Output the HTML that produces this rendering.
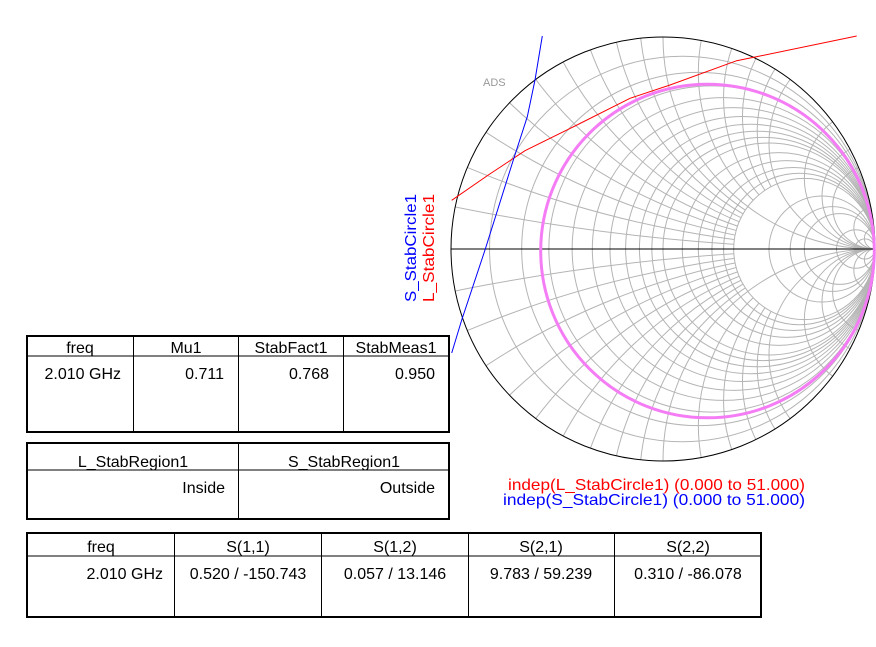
<!DOCTYPE html>
<html><head><meta charset="utf-8"><style>
html,body{margin:0;padding:0;background:#fff;width:876px;height:647px;overflow:hidden;}
svg{display:block;font-family:"Liberation Sans",Arial,sans-serif;}
</style></head><body>
<svg width="876" height="647" viewBox="0 0 876 647" xmlns="http://www.w3.org/2000/svg">
<defs>
<clipPath id="uc"><circle cx="0" cy="0" r="1"/></clipPath>
<clipPath id="lo"><path clip-rule="evenodd" d="M-1,0 A1,1 0 1,0 1,0 A1,1 0 1,0 -1,0 Z M0.3333,0 A0.3333,0.3333 0 1,0 1,0 A0.3333,0.3333 0 1,0 0.3333,0 Z"/></clipPath>
</defs>
<g transform="translate(663,249) scale(212)">
 <g clip-path="url(#uc)" fill="none" stroke="#b4b4b4" stroke-width="1">
  <circle vector-effect="non-scaling-stroke" cx=".0909" cy="0" r=".9091"/>
  <circle vector-effect="non-scaling-stroke" cx=".1667" cy="0" r=".8333"/>
  <circle vector-effect="non-scaling-stroke" cx=".2308" cy="0" r=".7692"/>
  <circle vector-effect="non-scaling-stroke" cx=".2857" cy="0" r=".7143"/>
  <circle vector-effect="non-scaling-stroke" cx=".3333" cy="0" r=".6667"/>
  <circle vector-effect="non-scaling-stroke" cx=".375" cy="0" r=".625"/>
  <circle vector-effect="non-scaling-stroke" cx=".4118" cy="0" r=".5882"/>
  <circle vector-effect="non-scaling-stroke" cx=".4444" cy="0" r=".5556"/>
  <circle vector-effect="non-scaling-stroke" cx=".4737" cy="0" r=".5263"/>
  <circle vector-effect="non-scaling-stroke" cx=".5" cy="0" r=".5"/>
  <circle vector-effect="non-scaling-stroke" cx=".5455" cy="0" r=".4545"/>
  <circle vector-effect="non-scaling-stroke" cx=".5833" cy="0" r=".4167"/>
  <circle vector-effect="non-scaling-stroke" cx=".6154" cy="0" r=".3846"/>
  <circle vector-effect="non-scaling-stroke" cx=".6429" cy="0" r=".3571"/>
  <circle vector-effect="non-scaling-stroke" cx=".6667" cy="0" r=".3333"/>
  <circle vector-effect="non-scaling-stroke" cx=".75" cy="0" r=".25"/>
  <circle vector-effect="non-scaling-stroke" cx=".8" cy="0" r=".2"/>
  <circle vector-effect="non-scaling-stroke" cx=".8333" cy="0" r=".1667"/>
  <circle vector-effect="non-scaling-stroke" cx=".9091" cy="0" r=".0909"/>
  <circle vector-effect="non-scaling-stroke" cx=".9524" cy="0" r=".0476"/>
  <circle vector-effect="non-scaling-stroke" cx="1" cy="1" r="1"/><circle vector-effect="non-scaling-stroke" cx="1" cy="-1" r="1"/>
  <circle vector-effect="non-scaling-stroke" cx="1" cy=".5" r=".5"/><circle vector-effect="non-scaling-stroke" cx="1" cy="-.5" r=".5"/>
  <circle vector-effect="non-scaling-stroke" cx="1" cy=".3333" r=".3333"/><circle vector-effect="non-scaling-stroke" cx="1" cy="-.3333" r=".3333"/>
  <circle vector-effect="non-scaling-stroke" cx="1" cy=".25" r=".25"/><circle vector-effect="non-scaling-stroke" cx="1" cy="-.25" r=".25"/>
  <circle vector-effect="non-scaling-stroke" cx="1" cy=".2" r=".2"/><circle vector-effect="non-scaling-stroke" cx="1" cy="-.2" r=".2"/>
  <circle vector-effect="non-scaling-stroke" cx="1" cy=".1" r=".1"/><circle vector-effect="non-scaling-stroke" cx="1" cy="-.1" r=".1"/>
  <circle vector-effect="non-scaling-stroke" cx="1" cy=".05" r=".05"/><circle vector-effect="non-scaling-stroke" cx="1" cy="-.05" r=".05"/>
 </g>
 <g clip-path="url(#lo)" fill="none" stroke="#b4b4b4" stroke-width="1">
  <circle vector-effect="non-scaling-stroke" cx="1" cy="10" r="10"/><circle vector-effect="non-scaling-stroke" cx="1" cy="-10" r="10"/>
  <circle vector-effect="non-scaling-stroke" cx="1" cy="5" r="5"/><circle vector-effect="non-scaling-stroke" cx="1" cy="-5" r="5"/>
  <circle vector-effect="non-scaling-stroke" cx="1" cy="3.3333" r="3.3333"/><circle vector-effect="non-scaling-stroke" cx="1" cy="-3.3333" r="3.3333"/>
  <circle vector-effect="non-scaling-stroke" cx="1" cy="2.5" r="2.5"/><circle vector-effect="non-scaling-stroke" cx="1" cy="-2.5" r="2.5"/>
  <circle vector-effect="non-scaling-stroke" cx="1" cy="2" r="2"/><circle vector-effect="non-scaling-stroke" cx="1" cy="-2" r="2"/>
  <circle vector-effect="non-scaling-stroke" cx="1" cy="1.6667" r="1.6667"/><circle vector-effect="non-scaling-stroke" cx="1" cy="-1.6667" r="1.6667"/>
  <circle vector-effect="non-scaling-stroke" cx="1" cy="1.4286" r="1.4286"/><circle vector-effect="non-scaling-stroke" cx="1" cy="-1.4286" r="1.4286"/>
  <circle vector-effect="non-scaling-stroke" cx="1" cy="1.25" r="1.25"/><circle vector-effect="non-scaling-stroke" cx="1" cy="-1.25" r="1.25"/>
  <circle vector-effect="non-scaling-stroke" cx="1" cy="1.1111" r="1.1111"/><circle vector-effect="non-scaling-stroke" cx="1" cy="-1.1111" r="1.1111"/>
  <circle vector-effect="non-scaling-stroke" cx="1" cy=".8333" r=".8333"/><circle vector-effect="non-scaling-stroke" cx="1" cy="-.8333" r=".8333"/>
  <circle vector-effect="non-scaling-stroke" cx="1" cy=".7143" r=".7143"/><circle vector-effect="non-scaling-stroke" cx="1" cy="-.7143" r=".7143"/>
  <circle vector-effect="non-scaling-stroke" cx="1" cy=".625" r=".625"/><circle vector-effect="non-scaling-stroke" cx="1" cy="-.625" r=".625"/>
  <circle vector-effect="non-scaling-stroke" cx="1" cy=".5556" r=".5556"/><circle vector-effect="non-scaling-stroke" cx="1" cy="-.5556" r=".5556"/>
 </g>
 <circle cx="0" cy="0" r="1" fill="none" stroke="#000" stroke-width="1" vector-effect="non-scaling-stroke"/>
</g>
<line x1="451" y1="249" x2="875" y2="249" stroke="#000" stroke-width="1"/>
<circle cx="707.5" cy="251" r="166.8" fill="none" stroke="#f47cf4" stroke-width="3"/>
<polyline fill="none" stroke="#ff0000" stroke-width="1" points="451.7,200.3 488.3,175 525,150.7 575,126 630,98.3 670,85 736.7,60.7 760,56 856.7,36"/>
<polyline fill="none" stroke="#0000ff" stroke-width="1" points="542.3,36 535,80 527.3,116.7 513.3,160 485,250 461.7,320 451.7,353"/>
<text x="483" y="86" font-size="11" fill="#999">ADS</text>
<text transform="translate(416,302) rotate(-90)" font-size="16" fill="#0000ff" textLength="108" lengthAdjust="spacingAndGlyphs">S_StabCircle1</text>
<text transform="translate(434,302) rotate(-90)" font-size="16" fill="#ff0000" textLength="108" lengthAdjust="spacingAndGlyphs">L_StabCircle1</text>
<text x="805" y="490" font-size="16" fill="#ff0000" text-anchor="end" textLength="297" lengthAdjust="spacingAndGlyphs">indep(L_StabCircle1) (0.000 to 51.000)</text>
<text x="805" y="505" font-size="16" fill="#0000ff" text-anchor="end" textLength="302" lengthAdjust="spacingAndGlyphs">indep(S_StabCircle1) (0.000 to 51.000)</text>

<g fill="none" stroke="#000">
 <rect x="27" y="336" width="422" height="96" stroke-width="2"/>
 <line x1="27" y1="356" x2="449" y2="356" stroke-width="1"/>
 <line x1="133.5" y1="336" x2="133.5" y2="432"/><line x1="238.5" y1="336" x2="238.5" y2="432"/><line x1="343.5" y1="336" x2="343.5" y2="432"/>
 <rect x="27" y="443" width="422" height="76" stroke-width="2"/>
 <line x1="27" y1="470" x2="449" y2="470"/>
 <line x1="238.5" y1="443" x2="238.5" y2="519"/>
 <rect x="27" y="533" width="734" height="84" stroke-width="2"/>
 <line x1="27" y1="556" x2="761" y2="556"/>
 <line x1="174.5" y1="533" x2="174.5" y2="617"/><line x1="321.5" y1="533" x2="321.5" y2="617"/><line x1="468.5" y1="533" x2="468.5" y2="617"/><line x1="614.5" y1="533" x2="614.5" y2="617"/>
</g>
<g font-size="16" fill="#000">
 <g text-anchor="middle">
  <text x="80" y="353">freq</text><text x="186" y="353">Mu1</text><text x="291" y="353">StabFact1</text><text x="396" y="353">StabMeas1</text>
  <text x="133" y="467">L_StabRegion1</text><text x="344" y="467">S_StabRegion1</text>
  <text x="101" y="552">freq</text><text x="248" y="552">S(1,1)</text><text x="395" y="552">S(1,2)</text><text x="541" y="552">S(2,1)</text><text x="688" y="552">S(2,2)</text>
  <text x="248" y="579">0.520 / -150.743</text><text x="395" y="579">0.057 / 13.146</text><text x="541" y="579">9.783 / 59.239</text><text x="688" y="579">0.310 / -86.078</text>
 </g>
 <g text-anchor="end">
  <text x="121" y="379">2.010 GHz</text><text x="224" y="379">0.711</text><text x="329" y="379">0.768</text><text x="435" y="379">0.950</text>
  <text x="225" y="493">Inside</text><text x="435" y="493">Outside</text>
  <text x="163" y="579">2.010 GHz</text>
 </g>
</g>
</svg>
</body></html>
